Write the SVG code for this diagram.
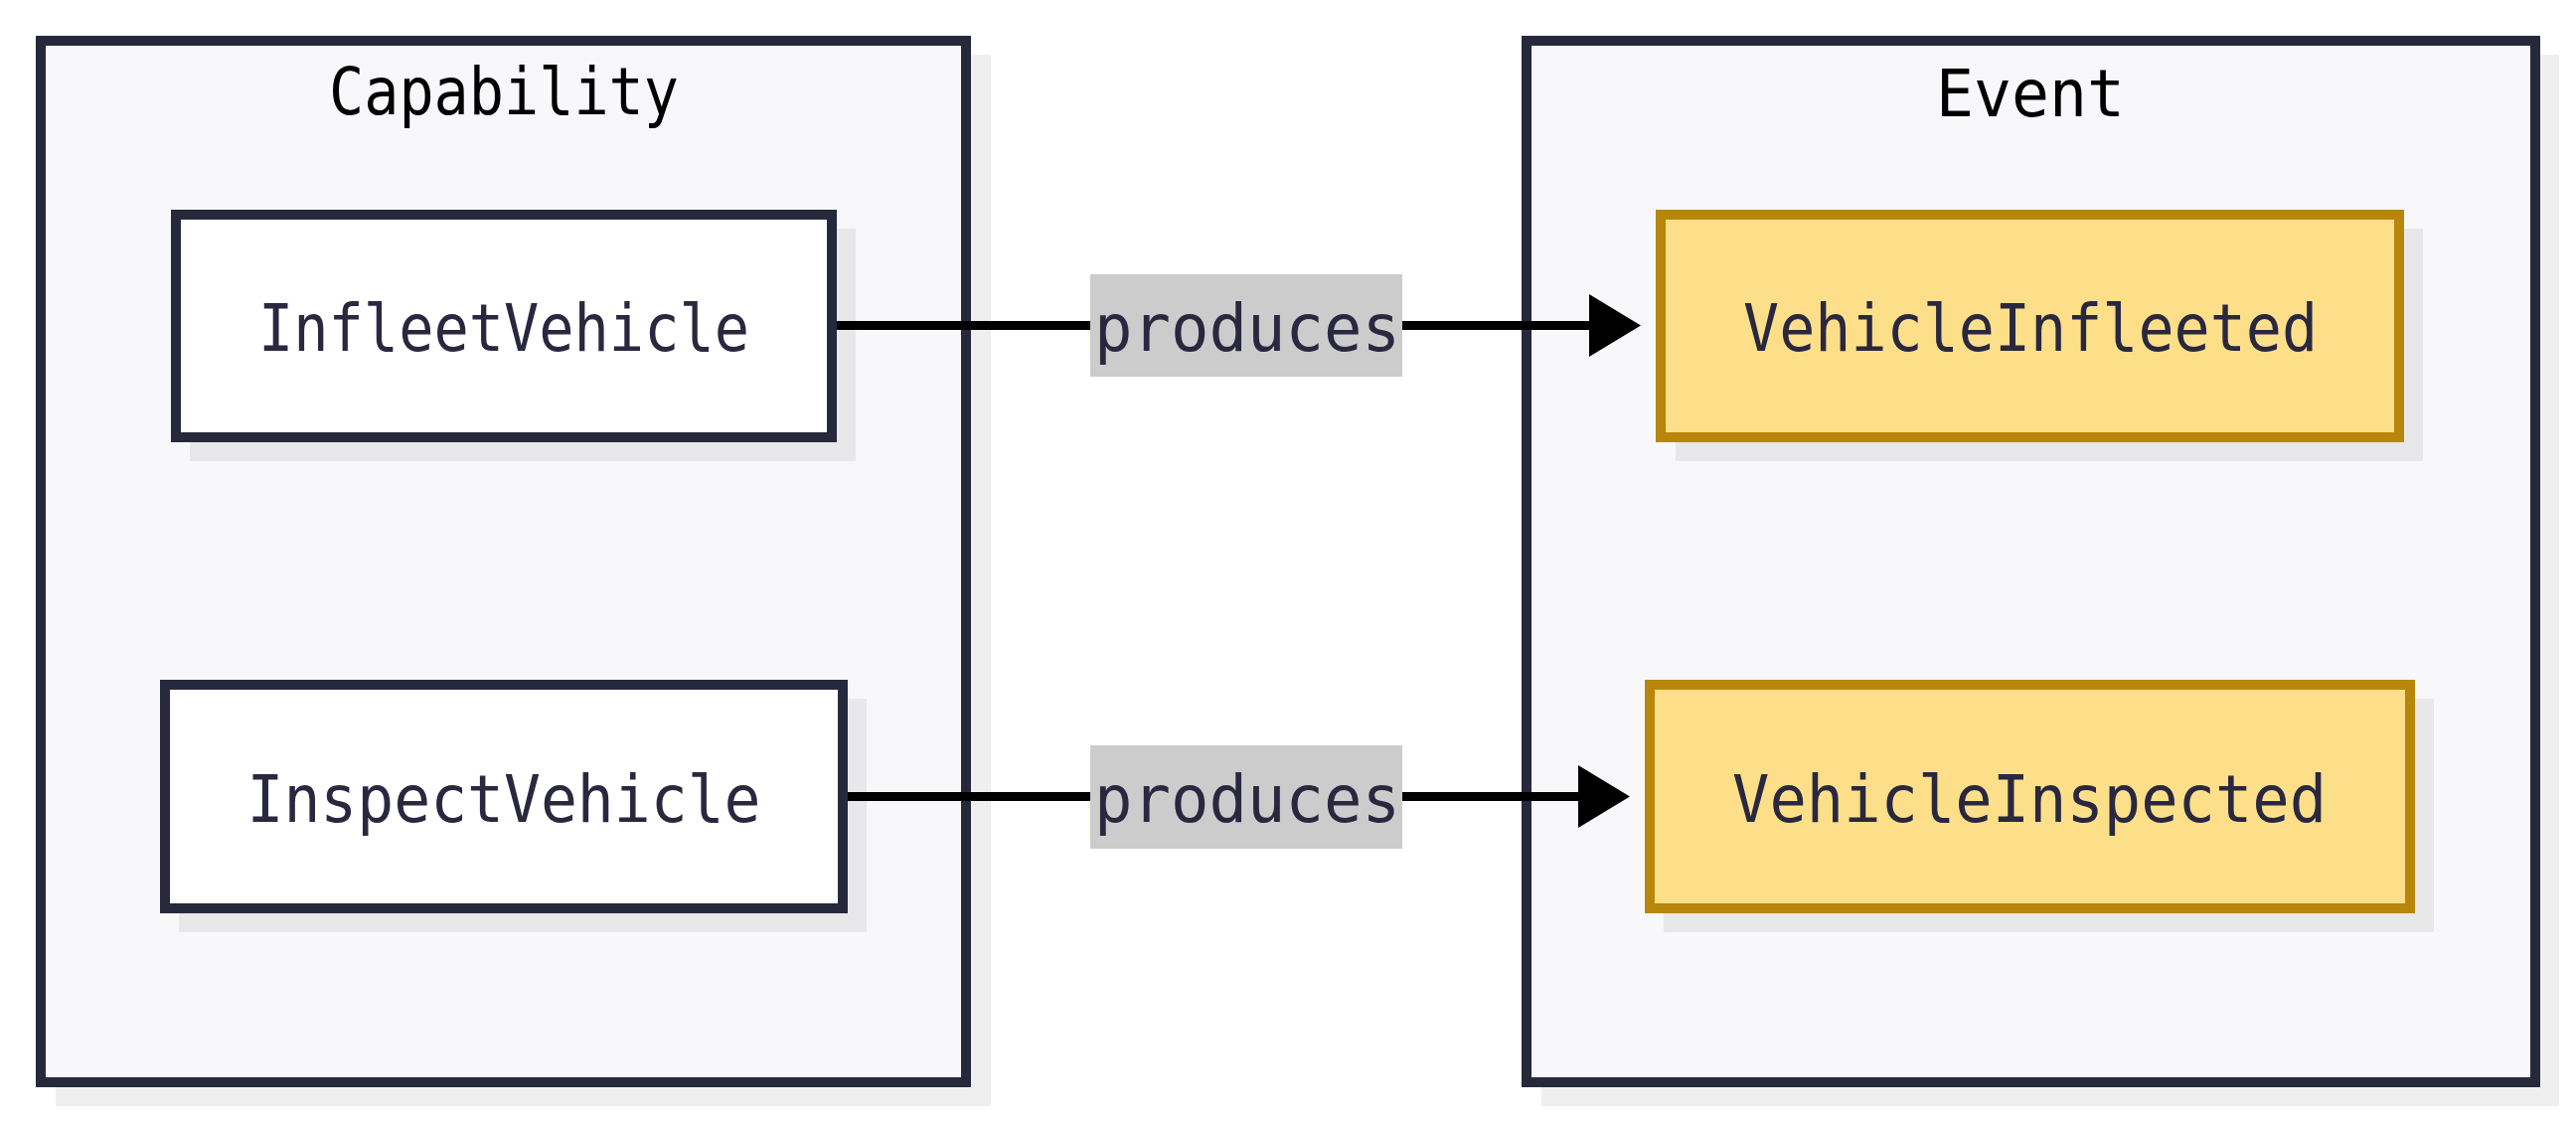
<svg xmlns="http://www.w3.org/2000/svg" width="2592" height="1130" viewBox="0 0 2592 1130">
<style>
.cl{fill:#f8f8fa;stroke:#28283d;stroke-width:10}
.clsh{fill:#efeff0}
.sh{fill:#e8e8ea}
.cap{fill:#ffffff;stroke:#28283d;stroke-width:10}
.ev{fill:#fddf8a;stroke:#b8860b;stroke-width:10}
.t{font-family:"DejaVu Sans Mono","Liberation Mono",monospace;font-size:66px;text-anchor:middle;fill:#29283f}
.tt{fill:#000000}
.edge{stroke:#000000;stroke-width:9;fill:none}
.lbl{fill:#cccccc}
</style>
<defs>
<marker id="ah" markerUnits="userSpaceOnUse" markerWidth="52" markerHeight="63" refX="0" refY="31.5" orient="auto">
<path d="M0,0 L52,31.5 L0,63 Z" fill="#000000"/>
</marker>
</defs>
<g id="cluster-capability">
<rect class="clsh" x="56" y="55" width="941" height="1058"/>
<rect class="cl" x="41" y="41" width="931" height="1048"/>
<text class="t tt" x="507" y="115" textLength="352" lengthAdjust="spacingAndGlyphs">Capability</text>
</g>
<g id="cluster-event">
<rect class="clsh" x="1551" y="55" width="1024" height="1058"/>
<rect class="cl" x="1536" y="41" width="1015" height="1048"/>
<text class="t tt" x="2043" y="117" textLength="190" lengthAdjust="spacingAndGlyphs">Event</text>
</g>
<g id="node-InfleetVehicle">
<rect class="sh" x="191" y="230" width="670" height="234"/>
<rect class="cap" x="177" y="216" width="660" height="224"/>
<text class="t" x="507" y="353" textLength="494" lengthAdjust="spacingAndGlyphs">InfleetVehicle</text>
</g>
<g id="node-InspectVehicle">
<rect class="sh" x="180" y="703" width="692" height="235"/>
<rect class="cap" x="166" y="689" width="682" height="225"/>
<text class="t" x="507" y="827" textLength="517" lengthAdjust="spacingAndGlyphs">InspectVehicle</text>
</g>
<g id="node-VehicleInfleeted">
<rect class="sh" x="1686" y="230" width="752" height="234"/>
<rect class="ev" x="1671" y="216" width="743" height="224"/>
<text class="t" x="2043" y="353" textLength="578" lengthAdjust="spacingAndGlyphs">VehicleInfleeted</text>
</g>
<g id="node-VehicleInspected">
<rect class="sh" x="1674" y="703" width="775" height="235"/>
<rect class="ev" x="1660" y="689" width="765" height="225"/>
<text class="t" x="2042" y="827" textLength="598" lengthAdjust="spacingAndGlyphs">VehicleInspected</text>
</g>
<g id="connectors">
<line class="edge" x1="842" y1="327.5" x2="1599" y2="327.5" marker-end="url(#ah)"/>
<line class="edge" x1="853" y1="801.5" x2="1588" y2="801.5" marker-end="url(#ah)"/>
<rect class="lbl" x="1097" y="276" width="314" height="103"/>
<text class="t" x="1255" y="353" textLength="308" lengthAdjust="spacingAndGlyphs">produces</text>
<rect class="lbl" x="1097" y="750" width="314" height="104"/>
<text class="t" x="1255" y="827" textLength="308" lengthAdjust="spacingAndGlyphs">produces</text>
</g>
</svg>
